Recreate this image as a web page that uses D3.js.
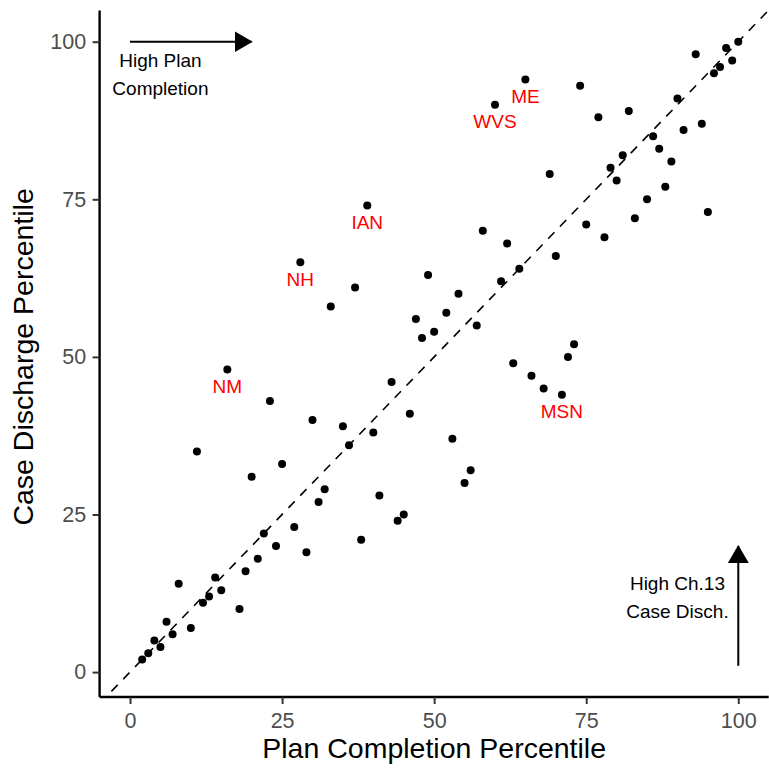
<!DOCTYPE html>
<html>
<head>
<meta charset="utf-8">
<script src="https://cdn.jsdelivr.net/npm/d3@7"></script>
<style>
  body { margin: 0; background: #fff; }
  text { font-family: "Liberation Sans", Arial, sans-serif; }
</style>
</head>
<body>
<div id="chart"></div>
<script>
// plan completion percentile (x) and case discharge percentile (y)
const planPct = [2,3,4,5,6,7,8,10,11,12,13,14,15,16,18,19,20,21,22,23,24,25,27,28,29,30,31,32,33,35,36,37,38,39,40,41,43,44,45,46,47,48,49,50,52,53,54,55,56,57,58,60,61,62,63,64,65,66,68,69,70,71,72,73,74,75,77,78,79,80,81,82,83,85,86,87,88,89,90,91,93,94,95,96,97,98,99,100];
const dischPct = [2,3,5,4,8,6,14,7,35,11,12,15,13,48,10,16,31,18,22,43,20,33,23,65,19,40,27,29,58,39,36,61,21,74,38,28,46,24,25,41,56,53,63,54,57,37,60,30,32,55,70,90,62,68,49,64,94,47,45,79,66,44,50,52,93,71,88,69,80,78,82,89,72,75,85,83,77,81,91,86,98,87,73,95,96,99,97,100];
const labelNames = ["NM","NH","IAN","WVS","ME","MSN"];
const labelX = [16,28,39,60,65,71];
const labelY = [48,65,74,90,94,44];
const ticks = [0,25,50,75,100];

(function() {
    const width = 769, height = 771;
    const panel = {left: 99.6, right: 768.7, top: 10.5, bottom: 697};
    const svg = d3.select("#chart").append("svg").attr("width", width).attr("height", height);

    // ggplot style 5% expansion around the data range (x 0..100, y 1..100)
    const x = d3.scaleLinear().domain([-5, 105]).range([panel.left, panel.right]);
    const y = d3.scaleLinear().domain([-3.95, 104.95]).range([panel.bottom, panel.top]);

    svg.append("defs").append("marker")
        .attr("id", "arrow").attr("viewBox", "0 0 18 21")
        .attr("refX", 17).attr("refY", 10.5)
        .attr("markerWidth", 18).attr("markerHeight", 21)
        .attr("markerUnits", "userSpaceOnUse")
        .attr("orient", "auto")
        .append("path").attr("d", "M0,0 L18,10.5 L0,21 Z").attr("fill", "#000");

    // 45 degree reference line, clipped to panel
    svg.append("clipPath").attr("id", "clip").append("rect")
        .attr("x", panel.left).attr("y", panel.top)
        .attr("width", panel.right - panel.left).attr("height", panel.bottom - panel.top);
    svg.append("line")
        .attr("clip-path", "url(#clip)")
        .attr("x1", x(-5)).attr("y1", y(-5)).attr("x2", x(105)).attr("y2", y(105))
        .attr("stroke", "#000").attr("stroke-width", 1.6).attr("stroke-dasharray", "9,8");

    const xAxis = svg.append("g")
        .attr("transform", `translate(0,${panel.bottom})`)
        .call(d3.axisBottom(x).tickValues(ticks).tickSize(7).tickPadding(8.5));
    const yAxis = svg.append("g")
        .attr("transform", `translate(${panel.left},0)`)
        .call(d3.axisLeft(y).tickValues(ticks).tickSize(7).tickPadding(6.5));
    xAxis.select(".domain").attr("d", `M${panel.left},0H${panel.right}`);
    yAxis.select(".domain").attr("d", `M0,${panel.bottom}V${panel.top}`);
    [xAxis, yAxis].forEach(g => {
        g.select(".domain").attr("stroke", "#000").attr("stroke-width", 2.4);
        g.selectAll(".tick line").attr("stroke", "#333").attr("stroke-width", 2);
        g.selectAll(".tick text").attr("fill", "#4d4d4d").style("font-size", "21.5px")
            .style("font-family", "Liberation Sans, Arial, sans-serif");
    });

    // axis titles
    svg.append("text")
        .attr("x", x(50)).attr("y", 758)
        .attr("text-anchor", "middle")
        .style("font-size", "28.5px")
        .text("Plan Completion Percentile");
    svg.append("text")
        .attr("transform", "rotate(-90)")
        .attr("x", -y(50)).attr("y", 33)
        .attr("text-anchor", "middle")
        .style("font-size", "28.5px")
        .text("Case Discharge Percentile");

    svg.selectAll("circle.pt")
        .data(planPct.map((p, i) => ({x: p, y: dischPct[i]})))
        .enter().append("circle")
        .attr("class", "pt")
        .attr("cx", d => x(d.x))
        .attr("cy", d => y(d.y))
        .attr("r", 4)
        .attr("fill", "#000");

    svg.selectAll("text.lbl")
        .data(labelNames.map((n, i) => ({n, x: labelX[i], y: labelY[i]})))
        .enter().append("text")
        .attr("class", "lbl")
        .attr("x", d => x(d.x))
        .attr("y", d => y(d.y - 2.6))
        .attr("dy", "0.36em")
        .attr("text-anchor", "middle")
        .attr("fill", "red")
        .style("font-size", "19px")
        .text(d => d.n);

    // direction arrows
    svg.append("line")
        .attr("x1", x(0)).attr("y1", y(100)).attr("x2", x(20)).attr("y2", y(100))
        .attr("stroke", "#000").attr("stroke-width", 2).attr("marker-end", "url(#arrow)");
    svg.append("line")
        .attr("x1", x(100)).attr("y1", y(1)).attr("x2", x(100)).attr("y2", y(20))
        .attr("stroke", "#000").attr("stroke-width", 2).attr("marker-end", "url(#arrow)");

    const note = (lines, cx, cy) => lines.forEach((t, i) => svg.append("text")
        .attr("x", x(cx)).attr("y", cy + i * 28.4).attr("dy", "0.36em")
        .attr("text-anchor", "middle").style("font-size", "19px").text(t));
    note(["High Plan", "Completion"], 5, 60);
    note(["High Ch.13", "Case Disch."], 90, 583.2);
})();
</script>
</body>
</html>
